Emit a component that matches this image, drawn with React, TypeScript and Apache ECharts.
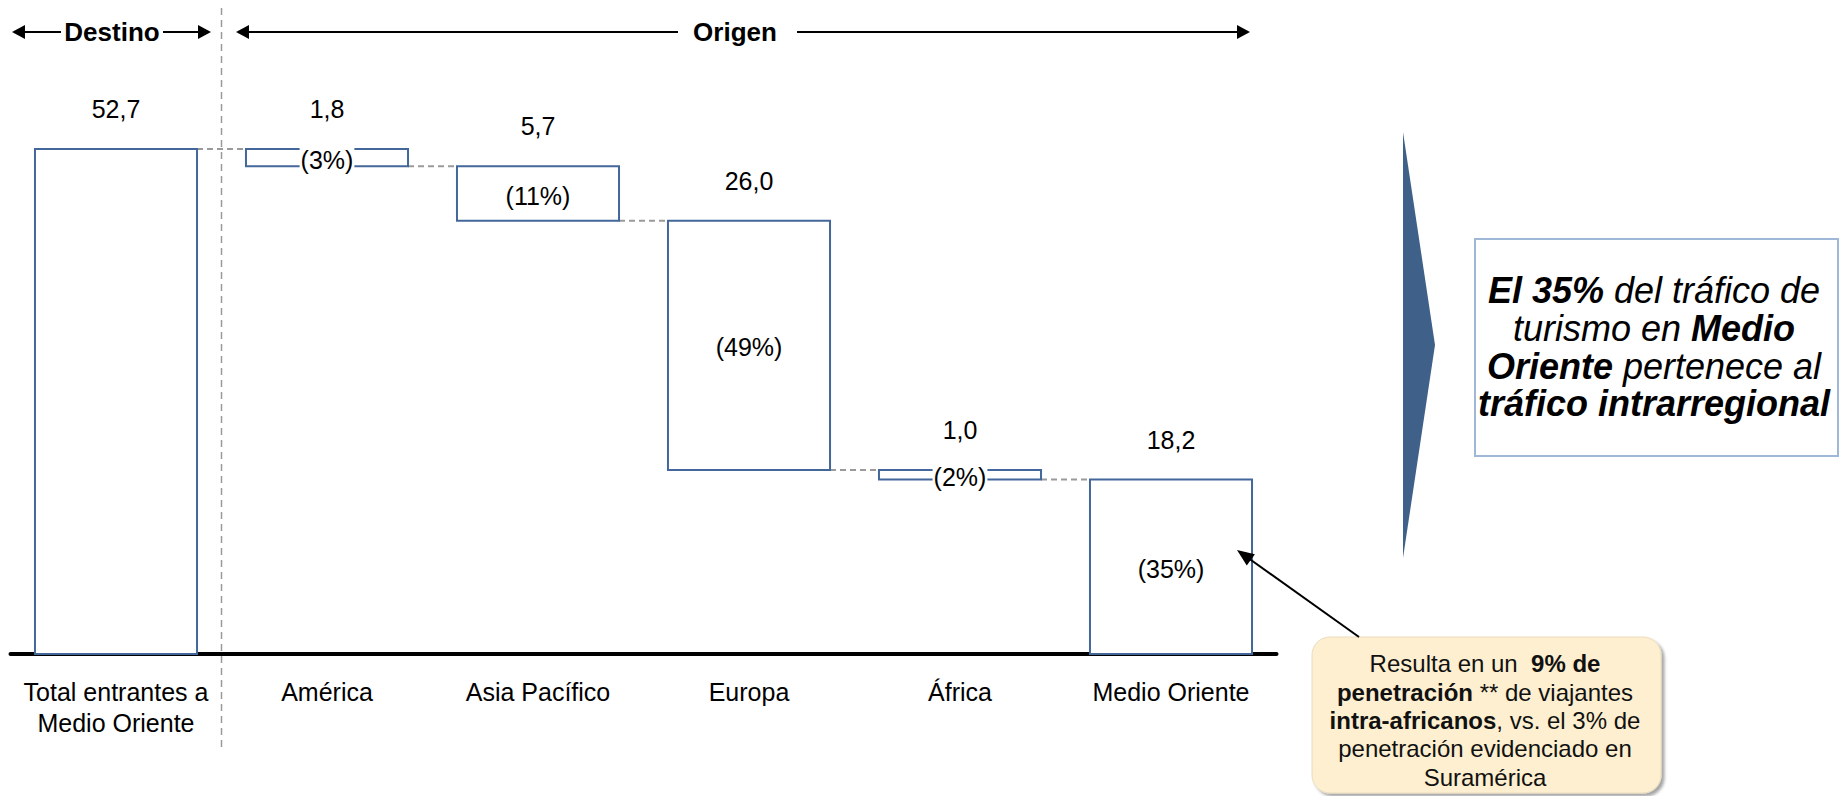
import React, { useEffect, useRef } from "react";
import * as echarts from "echarts";

const FONT = '"Liberation Sans", Arial, Helvetica, sans-serif';

const categories = [
  "Total entrantes a\nMedio Oriente",
  "América",
  "Asia Pacífico",
  "Europa",
  "África",
  "Medio Oriente",
];
const values = [52.7, 1.8, 5.7, 26.0, 1.0, 18.2];
const shares = ["", "(3%)", "(11%)", "(49%)", "(2%)", "(35%)"];

// waterfall levels built from the values
const highs: number[] = [];
const lows: number[] = [];
{
  let level = values[0];
  highs.push(values[0]);
  lows.push(0);
  for (let i = 1; i < values.length; i++) {
    highs.push(level);
    lows.push(Math.max(0, +(level - values[i]).toFixed(4)));
    level = level - values[i];
  }
}
const fmt = (v: number) => v.toFixed(1).replace(".", ",");

const BAR_STROKE = "#44679B";

function arrowHead(tipX: number, tipY: number, dirX: number, dirY: number, len: number, half: number) {
  const l = Math.hypot(dirX, dirY);
  const ux = dirX / l;
  const uy = dirY / l;
  const bx = tipX - ux * len;
  const by = tipY - uy * len;
  return [
    [tipX, tipY],
    [bx - uy * half, by + ux * half],
    [bx + uy * half, by - ux * half],
  ];
}

export default function App() {
  const ref = useRef<HTMLDivElement>(null);

  useEffect(() => {
    document.body.style.margin = "0";
    if (!ref.current) return;
    const chart = echarts.init(ref.current, undefined, { renderer: "svg" });

    const data = values.map((v, i) => [i, lows[i], highs[i], v]);

    chart.setOption({
      animation: false,
      backgroundColor: "#fff",
      grid: { left: 10.5, right: 563.5, top: 79, bottom: 142 },
      xAxis: {
        type: "category",
        data: categories,
        axisLine: { show: true, lineStyle: { color: "#000", width: 4 } },
        axisTick: { show: false },
        axisLabel: {
          interval: 0,
          color: "#000",
          fontSize: 25,
          fontFamily: FONT,
          lineHeight: 31,
          margin: 22,
        },
      },
      yAxis: {
        type: "value",
        min: 0,
        max: 60,
        show: false,
        splitLine: { show: false },
      },
      series: [
        {
          type: "custom",
          clip: false,
          encode: { x: 0, y: [1, 2] },
          data,
          renderItem: (params: any, api: any) => {
            const i = api.value(0);
            const low = api.value(1);
            const high = api.value(2);
            const top = api.coord([i, high]);
            const bot = api.coord([i, low]);
            const band = api.size([1, 0])[0];
            const w = band * 0.768;
            const cx = top[0];
            const children: any[] = [];
            if (i < values.length - 1) {
              const p = api.coord([i + 1, highs[i + 1]]);
              children.push({
                type: "line",
                shape: { x1: cx + w / 2, y1: p[1], x2: p[0] - w / 2, y2: p[1] },
                style: { stroke: "#9a9a9a", lineWidth: 2, lineDash: [6, 4] },
              });
            }
            children.push({
              type: "rect",
              shape: { x: cx - w / 2, y: top[1], width: w, height: bot[1] - top[1] },
              style: { fill: "#fff", stroke: BAR_STROKE, lineWidth: 2 },
            });
            children.push({
              type: "text",
              x: cx,
              y: top[1] - 40,
              style: {
                text: fmt(values[i]),
                fill: "#000",
                fontSize: 25,
                fontFamily: FONT,
                align: "center",
                verticalAlign: "middle",
              },
            });
            if (shares[i]) {
              children.push({
                type: "text",
                x: cx,
                y: (top[1] + bot[1]) / 2 + 2,
                style: {
                  text: shares[i],
                  fill: "#000",
                  fontSize: 25,
                  fontFamily: FONT,
                  align: "center",
                  verticalAlign: "middle",
                  backgroundColor: "#fff",
                  padding: [0, 1],
                },
              });
            }
            return { type: "group", children };
          },
        },
      ],
    });

    const px0 = chart.convertToPixel({ xAxisIndex: 0 }, 0) as number;
    const px1 = chart.convertToPixel({ xAxisIndex: 0 }, 1) as number;
    const xSep = (px0 + px1) / 2;

    const arrowStroke = { stroke: "#000", lineWidth: 2 };
    const Y = 32;
    const calloutTail = [1359, 637];
    const calloutTip = [1237, 550];

    const boxText = (y: number, parts: [string, string][]) => ({
      type: "text",
      x: 1654,
      y,
      style: {
        text: parts.map(([s, t]) => `{${s}|${t}}`).join(""),
        align: "center",
        verticalAlign: "middle",
        rich: {
          i: { fontSize: 36, fontStyle: "italic", fontFamily: FONT, fill: "#000", color: "#000" },
          b: { fontSize: 36, fontStyle: "italic", fontWeight: "bold", fontFamily: FONT, fill: "#000", color: "#000" },
        },
      },
    });
    const callText = (y: number, parts: [string, string][]) => ({
      type: "text",
      x: 1485,
      y,
      style: {
        text: parts.map(([s, t]) => `{${s}|${t}}`).join(""),
        align: "center",
        verticalAlign: "middle",
        rich: {
          n: { fontSize: 24, fontFamily: FONT, fill: "#111", color: "#111" },
          b: { fontSize: 24, fontWeight: "bold", fontFamily: FONT, fill: "#111", color: "#111" },
        },
      },
    });

    chart.setOption({
      graphic: [
        // separator
        {
          type: "line",
          shape: { x1: xSep, y1: 8, x2: xSep, y2: 747 },
          style: { stroke: "#9a9a9a", lineWidth: 1.5, lineDash: [7, 5] },
          z: 0,
        },
        // Destino arrow
        { type: "line", shape: { x1: 24, y1: Y, x2: 61, y2: Y }, style: arrowStroke },
        { type: "polygon", shape: { points: arrowHead(12, Y, -1, 0, 13, 7) }, style: { fill: "#000" } },
        {
          type: "text",
          x: 112,
          y: Y,
          style: { text: "Destino", fontSize: 26, fontWeight: "bold", fontFamily: FONT, fill: "#000", align: "center", verticalAlign: "middle" },
        },
        { type: "line", shape: { x1: 163, y1: Y, x2: 199, y2: Y }, style: arrowStroke },
        { type: "polygon", shape: { points: arrowHead(211, Y, 1, 0, 13, 7) }, style: { fill: "#000" } },
        // Origen arrow
        { type: "line", shape: { x1: 248, y1: Y, x2: 678, y2: Y }, style: arrowStroke },
        { type: "polygon", shape: { points: arrowHead(236, Y, -1, 0, 13, 7) }, style: { fill: "#000" } },
        {
          type: "text",
          x: 735,
          y: Y,
          style: { text: "Origen", fontSize: 26, fontWeight: "bold", fontFamily: FONT, fill: "#000", align: "center", verticalAlign: "middle" },
        },
        { type: "line", shape: { x1: 797, y1: Y, x2: 1238, y2: Y }, style: arrowStroke },
        { type: "polygon", shape: { points: arrowHead(1250, Y, 1, 0, 13, 7) }, style: { fill: "#000" } },
        // chevron
        {
          type: "polygon",
          shape: { points: [[1403, 132], [1435, 345], [1403, 558]] },
          style: { fill: "#3E6089" },
        },
        // conclusion box
        {
          type: "rect",
          shape: { x: 1475, y: 239, width: 363, height: 217 },
          style: { fill: "#fff", stroke: "#9FB8D8", lineWidth: 2 },
        },
        boxText(290, [["b", "El 35%"], ["i", " del tráfico de"]]),
        boxText(328, [["i", "turismo en "], ["b", "Medio"]]),
        boxText(366, [["b", "Oriente"], ["i", " pertenece al"]]),
        boxText(403, [["b", "tráfico intrarregional"]]),
        // callout
        {
          type: "rect",
          shape: { x: 1312, y: 637, width: 349, height: 156, r: 18 },
          style: {
            fill: "#FDEFCF",
            stroke: "#E9DCBC",
            lineWidth: 1,
            shadowColor: "rgba(0,0,0,0.35)",
            shadowBlur: 3,
            shadowOffsetX: 3,
            shadowOffsetY: 3,
          },
        },
        callText(663, [["n", "Resulta en un  "], ["b", "9% de"]]),
        callText(692, [["b", "penetración"], ["n", " ** de viajantes"]]),
        callText(720, [["b", "intra-africanos"], ["n", ", vs. el 3% de"]]),
        callText(748, [["n", "penetración evidenciado en"]]),
        callText(777, [["n", "Suramérica"]]),
        // callout arrow
        {
          type: "line",
          z: 50,
          shape: {
            x1: calloutTail[0],
            y1: calloutTail[1],
            x2: calloutTip[0] + (calloutTail[0] - calloutTip[0]) * 0.08,
            y2: calloutTip[1] + (calloutTail[1] - calloutTip[1]) * 0.08,
          },
          style: { stroke: "#000", lineWidth: 2 },
        },
        {
          type: "polygon",
          z: 50,
          shape: {
            points: arrowHead(
              calloutTip[0],
              calloutTip[1],
              calloutTip[0] - calloutTail[0],
              calloutTip[1] - calloutTail[1],
              17,
              7
            ),
          },
          style: { fill: "#000" },
        },
      ],
    });

    return () => chart.dispose();
  }, []);

  return <div ref={ref} style={{ width: 1840, height: 796 }} />;
}
